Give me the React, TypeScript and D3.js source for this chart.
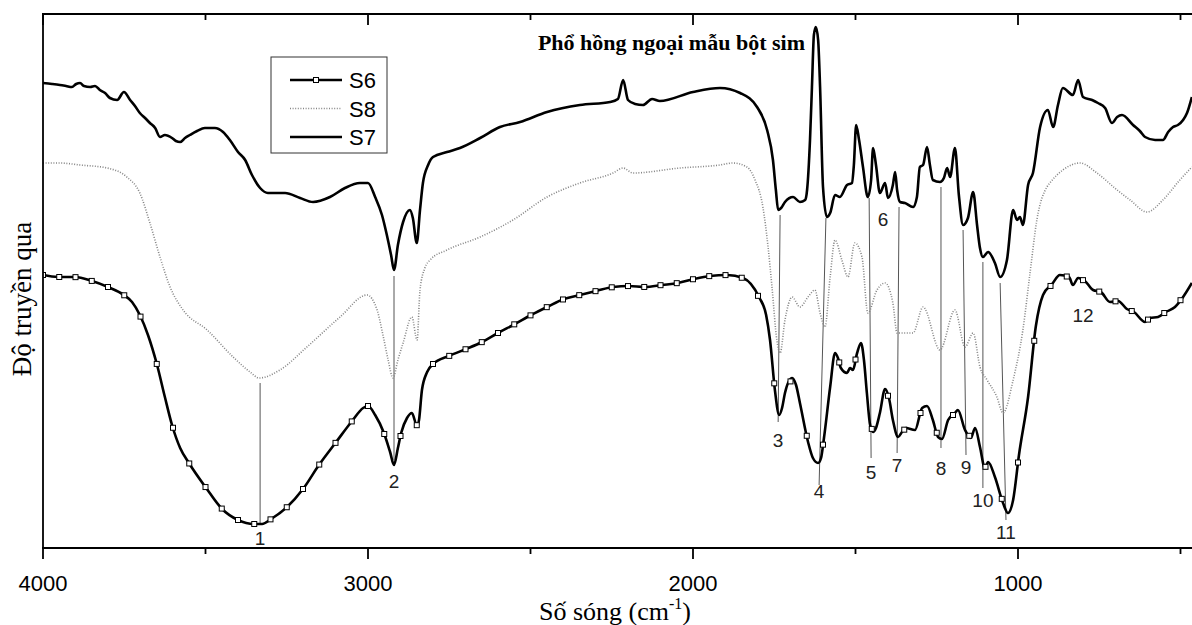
import React from "react";
import * as d3 from "d3";

// wavenumber (cm-1), transmittance (arbitrary units)
const S7: [number, number][] = [
  [4000,465],[3972,464],[3948,463],[3929,462],[3911,461],[3898,464],[3886,465],[3874,462],[3855,461],[3840,462],
  [3825,458],[3809,455],[3794,450],[3772,448],[3751,456],[3732,448],[3717,442],[3702,435],[3686,430],[3671,425],
  [3655,420],[3640,411],[3625,413],[3603,410],[3591,407],[3578,406],[3563,410],[3548,413],[3526,417],[3502,420],
  [3471,420],[3446,416],[3425,408],[3400,396],[3378,388],[3357,373],[3332,360],[3308,355],[3255,355],[3209,350],
  [3169,346],[3117,351],[3071,360],[3025,365],[3000,365],[2978,351],[2957,333],[2942,313],[2929,293],[2920,278],
  [2908,303],[2892,326],[2871,338],[2862,330],[2850,305],[2840,338],[2831,365],[2815,383],[2800,391],[2757,396],
  [2717,400],[2655,410],[2594,421],[2532,426],[2449,436],[2348,443],[2255,446],[2231,449],[2215,468],[2200,448],
  [2178,444],[2154,443],[2126,449],[2102,447],[2000,456],[1917,460],[1855,455],[1803,441],[1772,418],[1754,388],
  [1745,358],[1738,338],[1729,340],[1717,346],[1692,351],[1671,346],[1655,348],[1649,358],[1640,408],[1634,461],
  [1628,513],[1622,521],[1615,508],[1609,461],[1600,361],[1588,331],[1578,335],[1563,353],[1548,351],[1526,363],
  [1511,365],[1505,383],[1498,423],[1489,408],[1477,381],[1462,351],[1452,368],[1446,400],[1437,383],[1425,355],
  [1409,365],[1400,350],[1385,363],[1378,376],[1372,358],[1363,346],[1348,345],[1323,341],[1311,351],[1302,381],
  [1292,383],[1280,401],[1271,383],[1262,368],[1240,366],[1228,370],[1218,380],[1209,371],[1194,400],[1182,353],
  [1169,323],[1154,330],[1138,356],[1126,323],[1117,300],[1108,291],[1092,296],[1071,285],[1055,271],[1034,288],
  [1015,338],[1003,328],[994,331],[985,323],[969,363],[954,375],[932,421],[908,438],[892,421],[877,443],
  [862,460],[831,453],[815,468],[800,451],[772,448],[754,445],[732,440],[711,425],[695,431],[680,433],
  [646,423],[625,417],[609,411],[578,408],[554,408],[538,416],[523,421],[508,423],[492,428],[480,435],[465,451],
];

const S8: [number, number][] = [
  [4000,385],[3948,385],[3886,383],[3803,380],[3742,371],[3702,355],[3671,325],[3640,291],[3609,261],[3569,238],
  [3495,218],[3415,191],[3363,176],[3335,170],[3271,178],[3188,201],[3086,231],[3003,253],[2972,238],[2954,213],
  [2938,188],[2923,170],[2908,188],[2892,205],[2865,231],[2849,208],[2840,258],[2825,280],[2809,288],[2757,298],
  [2655,311],[2554,328],[2449,351],[2348,365],[2246,375],[2215,380],[2185,375],[2040,380],[1917,383],[1877,385],
  [1834,381],[1809,368],[1785,341],[1769,301],[1757,261],[1742,208],[1732,195],[1717,228],[1695,251],[1671,241],
  [1646,251],[1625,258],[1609,235],[1594,221],[1578,271],[1563,308],[1542,288],[1523,271],[1502,305],[1480,291],
  [1462,235],[1434,258],[1409,265],[1385,245],[1372,215],[1323,215],[1292,241],[1240,198],[1194,238],[1163,201],
  [1138,215],[1117,181],[1095,168],[1065,151],[1046,135],[1015,168],[985,218],[963,275],[942,328],[911,361],
  [902,365],[862,378],[809,385],[757,375],[695,358],[655,348],[603,336],[554,348],[502,368],[465,381],
];

const S6: [number, number][] = [
  [4000,273],[3954,271],[3902,271],[3849,267],[3800,261],[3751,253],[3726,246],[3702,233],[3677,213],[3649,183],
  [3625,151],[3603,123],[3578,100],[3551,85],[3498,60],[3449,39],[3400,28],[3351,24],[3326,24],[3298,29],
  [3249,41],[3200,59],[3151,83],[3098,106],[3049,127],[3015,140],[3000,142],[2978,133],[2951,115],[2932,96],
  [2920,83],[2908,100],[2898,115],[2880,130],[2865,135],[2849,122],[2843,128],[2834,158],[2818,176],[2800,184],
  [2751,192],[2698,199],[2649,206],[2600,215],[2548,224],[2498,233],[2449,241],[2397,249],[2348,253],[2298,257],
  [2246,261],[2197,262],[2148,261],[2095,263],[2046,265],[1997,269],[1948,272],[1895,273],[1846,270],[1797,251],
  [1775,233],[1763,208],[1748,158],[1735,133],[1726,140],[1717,155],[1695,170],[1683,163],[1671,145],[1646,106],
  [1631,90],[1615,85],[1606,90],[1597,110],[1578,161],[1563,195],[1554,190],[1545,180],[1526,175],[1517,180],
  [1508,178],[1495,195],[1483,205],[1474,188],[1465,155],[1455,123],[1446,116],[1437,120],[1425,135],[1409,159],
  [1397,150],[1385,128],[1369,111],[1357,116],[1345,120],[1317,118],[1295,140],[1280,142],[1262,128],[1246,111],
  [1234,109],[1215,128],[1194,135],[1185,138],[1163,118],[1145,110],[1132,120],[1117,101],[1102,80],[1092,86],
  [1071,71],[1046,45],[1031,35],[1015,48],[997,93],[969,151],[945,222],[923,253],[895,264],[871,273],
  [843,271],[831,263],[815,270],[794,267],[769,258],[745,256],[717,246],[692,247],[665,239],[643,236],
  [609,226],[594,230],[569,231],[545,236],[517,241],[492,251],[465,265],
];

// peak annotation: label, wn top, T top, wn bottom, T bottom, label wn, label T (centre)
const PEAK_LABELS = ["1","2","3","4","5","6","7","8","9","10","11","12"];
const PEAK_LINES: (number[] | null)[] = [
  [3332,165,3332,24],
  [2920,272,2920,88],
  [1732,333,1738,126],
  [1591,330,1612,63],
  [1458,350,1452,90],
  null,
  [1366,341,1372,95],
  [1237,361,1237,100],
  [1169,318,1160,93],
  [1108,286,1108,60],
  [1055,265,1037,28],
  null,
];
const PEAK_LABEL_POS: [number, number][] = [
  [3332,10],[2920,67],[1738,108],[1612,57],[1452,76],[1415,329],[1372,83],[1237,80],[1160,81],[1108,48],[1037,16],[800,233],
];

const X_TICKS = [4000, 3000, 2000, 1000];
const X_MINOR = [3500, 2500, 1500, 500];
const LEGEND = ["S6", "S8", "S7"];

const W = 1192, H = 625;
const LEFT = 43, TOP = 14, BOTTOM = 548;

export default function App() {
  const x = d3.scaleLinear().domain([4000, 400]).range([LEFT, LEFT + 3600 * 0.325]);
  const y = d3.scaleLinear().domain([0, 534]).range([BOTTOM, TOP]);
  const line = d3.line<[number, number]>().x(d => x(d[0])).y(d => y(d[1])).curve(d3.curveMonotoneX);

  // markers every 50 cm-1 along S6
  const interp = (wn: number) => {
    for (let i = 0; i < S6.length - 1; i++) {
      const a = S6[i], b = S6[i + 1];
      if (wn <= a[0] && wn >= b[0]) {
        const t = (a[0] - wn) / (a[0] - b[0]);
        return a[1] + t * (b[1] - a[1]);
      }
    }
    return null;
  };
  const markerWn = d3.range(4000, 464, -50);
  const markers = markerWn.map(w => [w, interp(w)] as [number, number | null]).filter(m => m[1] !== null) as [number, number][];

  const sans = "'Liberation Sans', Arial, sans-serif";
  const serif = "'Liberation Serif', 'Times New Roman', serif";

  return (
    <svg width={W} height={H} style={{ position: "absolute", left: 0, top: 0, background: "#fff" }}>
      <defs>
        <clipPath id="plot">
          <rect x={LEFT} y={TOP} width={W - LEFT} height={BOTTOM - TOP} />
        </clipPath>
      </defs>
      <rect x={0} y={0} width={W} height={H} fill="#fff" />

      {/* annotation lines */}
      <g stroke="#555" strokeWidth={1}>
        {PEAK_LINES.map((l, i) => l ? (
          <line key={i} x1={x(l[0])} y1={y(l[1])} x2={x(l[2])} y2={y(l[3])} />
        ) : null)}
      </g>

      <g clipPath="url(#plot)" fill="none">
        <path d={line(S8) || ""} stroke="#858585" strokeWidth={1.6} strokeDasharray="1,1.6" />
        <path d={line(S7) || ""} stroke="#000" strokeWidth={2.6} strokeLinejoin="round" />
        <path d={line(S6) || ""} stroke="#000" strokeWidth={2.6} strokeLinejoin="round" />
        {markers.map((m, i) => (
          <rect key={i} x={x(m[0]) - 2.5} y={y(m[1]) - 2.5} width={5} height={5} fill="#fff" stroke="#000" strokeWidth={1} />
        ))}
      </g>

      {/* peak labels */}
      <g fontFamily={sans} fontSize={19} fill="#222" textAnchor="middle">
        {PEAK_LABEL_POS.map((p, i) => (
          <text key={i} x={x(p[0])} y={y(p[1])} dy="0.36em">{PEAK_LABELS[i]}</text>
        ))}
      </g>

      {/* frame */}
      <g stroke="#000" strokeWidth={1.8}>
        <line x1={LEFT} y1={TOP} x2={LEFT} y2={BOTTOM} />
        <line x1={LEFT - 1} y1={TOP} x2={W} y2={TOP} />
        <line x1={LEFT - 1} y1={BOTTOM} x2={W} y2={BOTTOM} />
        {X_TICKS.map(t => (
          <g key={t}>
            <line x1={x(t)} y1={BOTTOM} x2={x(t)} y2={BOTTOM + 11} />
            <line x1={x(t)} y1={TOP} x2={x(t)} y2={TOP + 11} />
          </g>
        ))}
        {X_MINOR.map(t => (
          <g key={t}>
            <line x1={x(t)} y1={BOTTOM} x2={x(t)} y2={BOTTOM + 6} />
            <line x1={x(t)} y1={TOP} x2={x(t)} y2={TOP + 6} />
          </g>
        ))}
      </g>
      <g fontFamily={sans} fontSize={22} fill="#000" textAnchor="middle">
        {X_TICKS.map(t => (
          <text key={t} x={x(t)} y={591}>{t}</text>
        ))}
      </g>

      {/* axis titles */}
      <text x={615} y={620} fontFamily={serif} fontSize={26} textAnchor="middle">
        Số sóng (cm<tspan fontSize={16} dy={-11}>-1</tspan><tspan dy={11}>)</tspan>
      </text>
      <text transform="translate(31,299) rotate(-90)" fontFamily={serif} fontSize={27} textAnchor="middle">
        Độ truyền qua
      </text>

      {/* title */}
      <text x={805} y={50} fontFamily={serif} fontSize={22} fontWeight="bold" textAnchor="end">
        Phổ hồng ngoại mẫu bột sim
      </text>

      {/* legend */}
      <g>
        <rect x={271} y={57} width={116} height={96} fill="#fff" stroke="#333" strokeWidth={1} />
        {LEGEND.map((name, i) => {
          const ly = 80 + i * 28.5;
          return (
            <g key={name}>
              {name === "S8" ? (
                <line x1={290} x2={342} y1={ly} y2={ly} stroke="#858585" strokeWidth={1.6} strokeDasharray="1,1.6" />
              ) : (
                <line x1={290} x2={342} y1={ly} y2={ly} stroke="#000" strokeWidth={2.6} />
              )}
              {name === "S6" && <rect x={313.5} y={ly - 2.5} width={5} height={5} fill="#fff" stroke="#000" strokeWidth={1} />}
              <text x={349} y={ly + 8} fontFamily={sans} fontSize={22}>{name}</text>
            </g>
          );
        })}
      </g>
    </svg>
  );
}
